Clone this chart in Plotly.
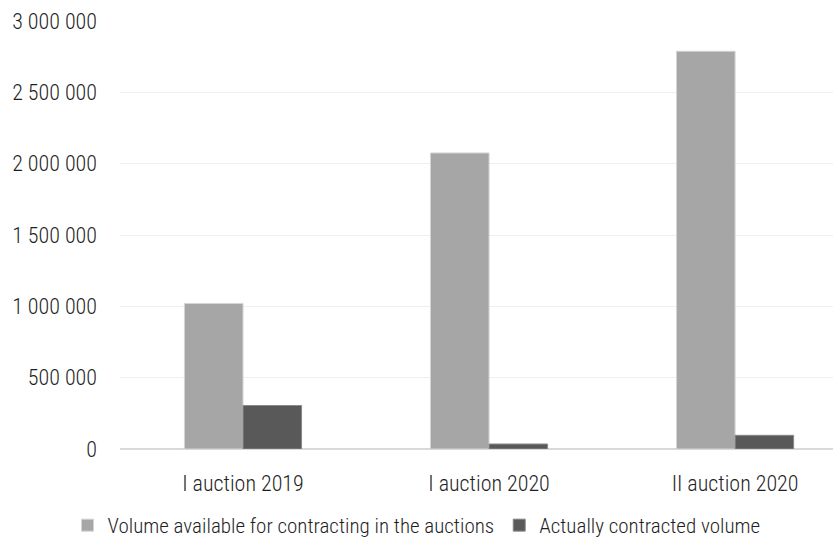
import plotly.graph_objects as go

# Auction volumes
categories = ["I auction 2019", "I auction 2020", "II auction 2020"]
available_volume = [1020000, 2075000, 2788000]
contracted_volume = [305000, 35000, 96000]
series_names = ["Volume available for contracting in the auctions", "Actually contracted volume"]
y_ticks = [0, 500000, 1000000, 1500000, 2000000, 2500000, 3000000]

FONT = "Roboto Condensed, Roboto, sans-serif"
TEXT = "#1f1f1f"

fig = go.Figure()
fig.add_trace(go.Bar(
    x=categories, y=available_volume, name=series_names[0],
    marker=dict(color="#a6a6a6", line=dict(color="#d4d4d4", width=1)),
))
fig.add_trace(go.Bar(
    x=categories, y=contracted_volume, name=series_names[1],
    marker=dict(color="#595959", line=dict(color="#8a8a8a", width=1)),
))

fig.update_layout(
    width=833, height=546,
    margin=dict(l=120, r=0, t=21, b=97),
    paper_bgcolor="white", plot_bgcolor="white",
    barmode="group", bargap=0.524, bargroupgap=0,
    separators=", ",
    font=dict(family=FONT, size=22, color=TEXT, weight=300),
    showlegend=True,
    legend=dict(
        orientation="h", xref="container", x=0.5, xanchor="center",
        yref="container", y=0.0, yanchor="bottom",
        font=dict(family=FONT, size=21, color=TEXT, weight=300),
        itemwidth=30, traceorder="normal",
    ),
    xaxis=dict(
        range=[-0.5, 2.398], showgrid=False, showline=False,
        ticks="", ticklabelstandoff=19,
    ),
    yaxis=dict(
        range=[0, 3000000], tickvals=y_ticks, tickformat=",d",
        showgrid=True, gridcolor="#efefef", gridwidth=1,
        zeroline=True, zerolinecolor="#d9d9d9", zerolinewidth=2,
        showline=False, ticks="", ticklabelstandoff=22,
    ),
)

fig.write_html("out.html")
